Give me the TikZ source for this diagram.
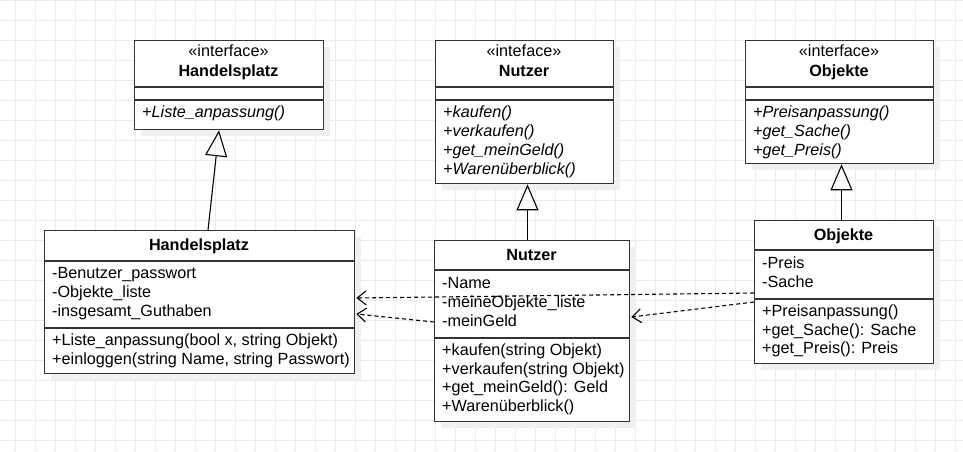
\documentclass[tikz,border=0pt]{standalone}
\usepackage{fontspec}
\setmainfont{Liberation Sans}
\usetikzlibrary{arrows.meta,calc,shadows}
\begin{document}
\begin{tikzpicture}[x=1pt,y=-1pt,
  gridline/.style={draw=black!8, line width=0.9pt},
  umlbox/.style={draw=black!80, line width=1.3pt, fill=white, inner sep=0pt, anchor=north west,
    drop shadow={shadow xshift=6pt, shadow yshift=-6pt, fill=black!6, opacity=1}},
  sepline/.style={draw=black!80, line width=1.3pt},
  txt/.style={anchor=base west, inner sep=0pt, font=\fontsize{16.2}{19}\selectfont},
  ctxt/.style={anchor=base, inner sep=0pt, font=\fontsize{16.2}{19}\selectfont},
  btxt/.style={ctxt, font=\fontsize{16.2}{19}\selectfont\bfseries},
  itxt/.style={txt, font=\fontsize{16.2}{19}\selectfont\itshape},
  inherit/.style={draw=black, line width=1.1pt, -{Triangle[open, length=26pt, width=22pt, line width=1.1pt]}},
  depend/.style={draw=black, line width=1.1pt, dash pattern=on 4pt off 3pt, -{Straight Barb[length=9pt, width=14pt, line width=1.1pt]}}
]
\useasboundingbox (0,0) rectangle (963,451);
% background grid
\foreach \gx in {15,35,...,955} \draw[gridline] (\gx,0) -- (\gx,451);
\foreach \gy in {0,20,...,440} \draw[gridline] (0,\gy) -- (963,\gy);

% ---------- boxes ----------
\node[umlbox, minimum width=189pt, minimum height=89pt] (ihp) at (134,40) {};
\node[umlbox, minimum width=178pt, minimum height=143pt] (inu) at (435,40) {};
\node[umlbox, minimum width=188pt, minimum height=123pt] (iob) at (745,40) {};
\node[umlbox, minimum width=310pt, minimum height=143pt] (chp) at (44,230) {};
\node[umlbox, minimum width=195pt, minimum height=181pt] (cnu) at (434,240) {};
\node[umlbox, minimum width=179pt, minimum height=143pt] (cob) at (754,220) {};

% separators
\draw[sepline] ($(ihp.north west)+(0,47)$) -- ($(ihp.north east)+(0,47)$);
\draw[sepline] ($(ihp.north west)+(0,60)$) -- ($(ihp.north east)+(0,60)$);
\draw[sepline] ($(inu.north west)+(0,47)$) -- ($(inu.north east)+(0,47)$);
\draw[sepline] ($(inu.north west)+(0,60)$) -- ($(inu.north east)+(0,60)$);
\draw[sepline] ($(iob.north west)+(0,47)$) -- ($(iob.north east)+(0,47)$);
\draw[sepline] ($(iob.north west)+(0,60)$) -- ($(iob.north east)+(0,60)$);
\draw[sepline] ($(chp.north west)+(0,31)$) -- ($(chp.north east)+(0,31)$);
\draw[sepline] ($(chp.north west)+(0,98)$) -- ($(chp.north east)+(0,98)$);
\draw[sepline] ($(cnu.north west)+(0,30)$) -- ($(cnu.north east)+(0,30)$);
\draw[sepline] ($(cnu.north west)+(0,98)$) -- ($(cnu.north east)+(0,98)$);
\draw[sepline] ($(cob.north west)+(0,30)$) -- ($(cob.north east)+(0,30)$);
\draw[sepline] ($(cob.north west)+(0,79)$) -- ($(cob.north east)+(0,79)$);

% ---------- texts: interface Handelsplatz ----------
\node[ctxt] (ihp-s) at (228.5,56) {«interface»};
\node[btxt] (ihp-t) at (228.5,76) {Handelsplatz};
\node[itxt] (ihp-m1) at (142,117) {+Liste\_anpassung()};

% ---------- interface Nutzer ----------
\node[ctxt] (inu-s) at (524,56) {«inteface»};
\node[btxt] (inu-t) at (524,76) {Nutzer};
\node[itxt] (inu-m1) at (443,117) {+kaufen()};
\node[itxt] (inu-m2) at (443,136) {+verkaufen()};
\node[itxt] (inu-m3) at (443,155) {+get\_meinGeld()};
\node[itxt] (inu-m4) at (443,174) {+Warenüberblick()};

% ---------- interface Objekte ----------
\node[ctxt] (iob-s) at (839,56) {«interface»};
\node[btxt] (iob-t) at (839,76) {Objekte};
\node[itxt] (iob-m1) at (753,117) {+Preisanpassung()};
\node[itxt] (iob-m2) at (753,136) {+get\_Sache()};
\node[itxt] (iob-m3) at (753,155) {+get\_Preis()};

% ---------- class Handelsplatz ----------
\node[btxt] (chp-t) at (199,250) {Handelsplatz};
\node[txt] (chp-a1) at (52,278) {-Benutzer\_passwort};
\node[txt] (chp-a2) at (52,297) {-Objekte\_liste};
\node[txt] (chp-a3) at (52,316) {-insgesamt\_Guthaben};
\node[txt] (chp-m1) at (52,345) {+Liste\_anpassung(bool x, string Objekt)};
\node[txt] (chp-m2) at (52,364) {+einloggen(string Name, string Passwort)};

% ---------- class Nutzer ----------
\node[btxt] (cnu-t) at (531.5,260) {Nutzer};
\node[txt] (cnu-a1) at (442,288) {-Name};
\node[txt] (cnu-a2) at (442,307) {-meineObjekte\_liste};
\node[txt] (cnu-a3) at (442,326) {-meinGeld};
\node[txt] (cnu-m1) at (442,355) {+kaufen(string Objekt)};
\node[txt] (cnu-m2) at (442,374) {+verkaufen(string Objekt)};
\node[txt] (cnu-m3) at (442,392.5) {+get\_meinGeld(): Geld};
\node[txt] (cnu-m4) at (442,411) {+Warenüberblick()};

% ---------- class Objekte ----------
\node[btxt] (cob-t) at (843.5,240) {Objekte};
\node[txt] (cob-a1) at (762,268) {-Preis};
\node[txt] (cob-a2) at (762,287) {-Sache};
\node[txt] (cob-m1) at (762,316.5) {+Preisanpassung()};
\node[txt] (cob-m2) at (762,335) {+get\_Sache(): Sache};
\node[txt] (cob-m3) at (762,353) {+get\_Preis(): Preis};

% ---------- inheritance ----------
\draw[inherit] ($(chp.north west)+(164,0)$) -- ($(ihp.south west)+(85,0)$);
\draw[inherit] ($(cnu.north west)+(93.5,0)$) -- ($(inu.south west)+(92.5,0)$);
\draw[inherit] ($(cob.north west)+(87.5,0)$) -- ($(iob.south west)+(96.5,0)$);

% ---------- dependencies ----------
\draw[depend] ($(cob.north west)+(0,73)$) -- ($(chp.north east)+(1,68)$);
\draw[depend] ($(cnu.north west)+(0,82)$) -- ($(chp.north east)+(1,84)$);
\draw[depend] ($(cob.north west)+(0,82)$) -- ($(cnu.north east)+(1,77)$);
\end{tikzpicture}
\end{document}
